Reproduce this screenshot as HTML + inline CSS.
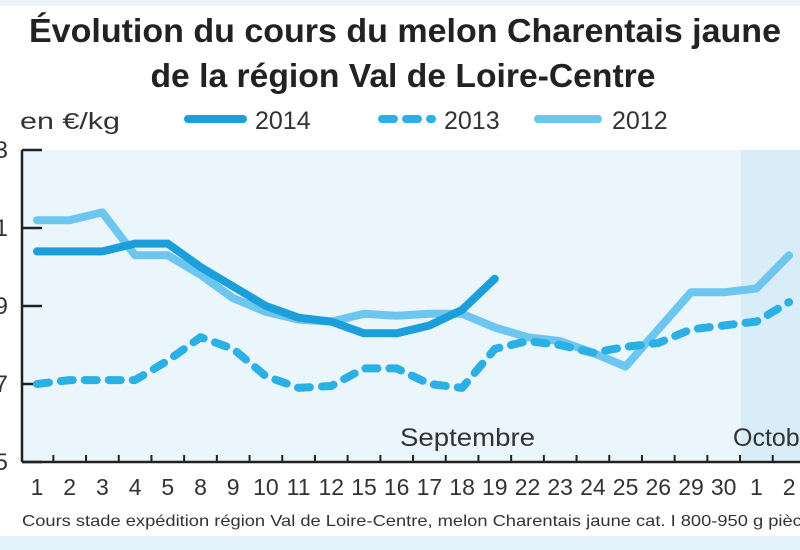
<!DOCTYPE html>
<html><head><meta charset="utf-8"><style>
html,body{margin:0;padding:0;background:#fff;}
svg{display:block;font-family:"Liberation Sans",sans-serif;}
</style></head><body>
<svg id="chart" width="800" height="550" viewBox="0 0 800 550">
<rect x="0" y="0" width="800" height="6" fill="#eaf5fb"/>
<rect x="0" y="536" width="800" height="14" fill="#e2f1fa"/>
<text x="405" y="42" text-anchor="middle" font-size="33" font-weight="bold" fill="#222" textLength="752" lengthAdjust="spacingAndGlyphs">Évolution du cours du melon Charentais jaune</text>
<text x="403" y="87" text-anchor="middle" font-size="33" font-weight="bold" fill="#222" textLength="505" lengthAdjust="spacingAndGlyphs">de la région Val de Loire-Centre</text>
<text x="20" y="129" font-size="23" fill="#333" textLength="100" lengthAdjust="spacingAndGlyphs">en €/kg</text>
<g>
<line x1="188" y1="119" x2="243" y2="119" stroke="#1a9fdb" stroke-width="8" stroke-linecap="round"/>
<text x="255" y="129" font-size="25" fill="#333">2014</text>
<line x1="382" y1="119" x2="432" y2="119" stroke="#2ab0e4" stroke-width="8" stroke-linecap="round" stroke-dasharray="12 12"/>
<text x="444" y="129" font-size="25" fill="#333">2013</text>
<line x1="538" y1="119" x2="598" y2="119" stroke="#6dc6ef" stroke-width="8" stroke-linecap="round"/>
<text x="612" y="129" font-size="25" fill="#333">2012</text>
</g>
<rect x="22" y="150" width="778" height="312" fill="#eaf5fc"/>
<rect x="741" y="150" width="59" height="312" fill="#d9edf9"/>
<text x="400" y="446" font-size="25" fill="#333" textLength="135" lengthAdjust="spacingAndGlyphs">Septembre</text>
<text x="733" y="446" font-size="25" fill="#333">Octobre</text>
<g id="axes"></g>
<g id="series"></g>
<text x="22" y="526" font-size="16" fill="#333" textLength="790" lengthAdjust="spacingAndGlyphs">Cours stade expédition région Val de Loire-Centre, melon Charentais jaune cat. I 800-950 g pièce</text>
</svg>
<script>
const categories = ["1","2","3","4","5","8","9","10","11","12","15","16","17","18","19","22","23","24","25","26","29","30","1","2"];
const yTicks = [0.5,0.7,0.9,1.1,1.3];
const yTickLabels = ["5","7","9","1","3"];
const s2014 = [1.04,1.04,1.04,1.06,1.06,1.0,0.95,0.90,0.87,0.86,0.83,0.83,0.85,0.89,0.97];
const s2013 = [0.70,0.71,0.71,0.71,0.76,0.82,0.79,0.72,0.69,0.695,0.74,0.74,0.70,0.69,0.79,0.81,0.80,0.78,0.795,0.805,0.84,0.85,0.86,0.91];
const s2012 = [1.12,1.12,1.14,1.03,1.03,0.98,0.92,0.885,0.865,0.86,0.88,0.875,0.88,0.88,0.845,0.82,0.81,0.78,0.745,0.84,0.935,0.935,0.945,1.03];

const NS = "http://www.w3.org/2000/svg";
const x = i => 37 + i * 32.7;
const y = v => 462 - (v - 0.5) / 0.8 * 312;
const axes = document.getElementById("axes");
const series = document.getElementById("series");
function mk(tag, attrs, parent){const e=document.createElementNS(NS,tag);for(const k in attrs)e.setAttribute(k,attrs[k]);parent.appendChild(e);return e;}

const yAxis = mk("line",{x1:22,y1:150,x2:22,y2:462,stroke:"#222","stroke-width":2.5},axes);


const xAxis = mk("line",{x1:22,y1:462,x2:800,y2:462,stroke:"#222","stroke-width":2.5},axes);


yTicks.forEach((v,i)=>{
  const t = mk("line",{x1:22,y1:y(v),x2:42,y2:y(v),stroke:"#222","stroke-width":2.5},axes);
  
  
  const l = mk("text",{x:8,y:y(v)+8,"text-anchor":"end","font-size":24,fill:"#333"},axes);
  l.textContent = yTickLabels[i];
  
  
});
categories.forEach((c,i)=>{
  const t = mk("line",{x1:x(i)+16.35,y1:455,x2:x(i)+16.35,y2:462,stroke:"#222","stroke-width":2},axes);
  
  
  const l = mk("text",{x:x(i),y:495,"text-anchor":"middle","font-size":23,fill:"#333"},axes);
  l.textContent = c;
  
  
});
function pts(arr){return arr.map((v,i)=>x(i).toFixed(1)+","+y(v).toFixed(1)).join(" ");}
const l12 = mk("polyline",{points:pts(s2012),fill:"none",stroke:"#6dc6ef","stroke-width":8,"stroke-linejoin":"round","stroke-linecap":"round"},series);


const l13 = mk("polyline",{points:pts(s2013),fill:"none",stroke:"#2ab0e4","stroke-width":8,"stroke-linejoin":"round","stroke-linecap":"round","stroke-dasharray":"12 12"},series);


const l14 = mk("polyline",{points:pts(s2014),fill:"none",stroke:"#1a9fdb","stroke-width":8,"stroke-linejoin":"round","stroke-linecap":"round"},series);


</script>
</body></html>
